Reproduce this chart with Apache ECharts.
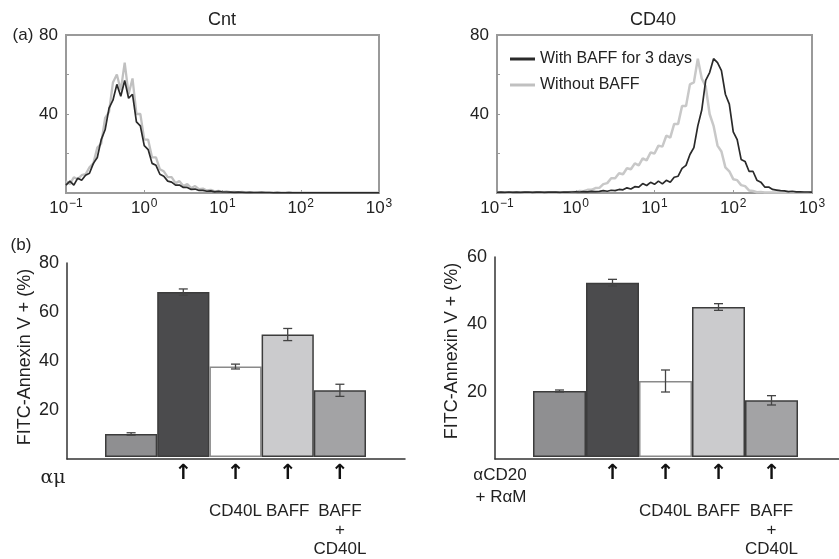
<!DOCTYPE html>
<html><head><meta charset="utf-8">
<script src="https://cdn.jsdelivr.net/npm/echarts@6/dist/echarts.min.js"></script>
<style>html,body{margin:0;padding:0;background:#fff}#c{width:839px;height:559px}</style>
</head><body><div id="c"></div>
<script>
// ---- histogram data (x = log10 fluorescence channel) ----
const histLog = [-1, -0.95, -0.9, -0.85, -0.8, -0.75, -0.7, -0.65, -0.6, -0.55, -0.5, -0.45, -0.4, -0.35, -0.3, -0.25, -0.2, -0.15, -0.1, -0.05,
  0, 0.05, 0.1, 0.15, 0.2, 0.25, 0.3, 0.35, 0.4, 0.45, 0.5, 0.55, 0.6, 0.65, 0.7, 0.75, 0.8, 0.85, 0.9, 0.95,
  1, 1.05, 1.1, 1.15, 1.2, 1.25, 1.3, 1.35, 1.4, 1.45, 1.5, 1.55, 1.6, 1.65, 1.7, 1.75, 1.8, 1.85, 1.9, 1.95,
  2, 2.05, 2.1, 2.15, 2.2, 2.25, 2.3, 2.35, 2.4, 2.45, 2.5, 2.55, 2.6, 2.65, 2.7, 2.75, 2.8, 2.85, 2.9, 2.95, 3];
const cntWith = [4, 6, 4, 7.5, 6.5, 9, 10, 15, 18, 27,
  32, 43, 47, 55, 49, 57, 48, 50, 36, 34,
  24, 22, 15, 14, 9.5, 8.5, 6, 5.5, 4, 4,
  2.8, 2.8, 1.8, 2, 1.3, 1.3, 0.9, 1.1, 0.6, 0.8,
  0.5, 0.5, 0.4, 0.3, 0.4, 0.3, 0.2, 0.3, 0.2, 0.2,
  0.3, 0.2, 0.2, 0.1, 0.2, 0.1, 0.1, 0.2, 0.1, 0.1,
  0.1, 0.1, 0.1, 0.1, 0.1, 0.1, 0.1, 0.1, 0.1, 0.1,
  0.1, 0.1, 0.1, 0.1, 0.1, 0.1, 0.1, 0.1, 0.1, 0.1, 0.1];
const cntWithout = [6, 4.5, 8, 7, 9, 9.5, 13, 15, 23, 25,
  38, 41, 56, 60, 52, 66, 50, 58, 40, 40,
  27, 27, 18, 18, 12, 11, 8, 8, 5, 6,
  3.5, 4.5, 2.5, 3.5, 2, 2.2, 1.3, 1.6, 0.8, 1.1,
  0.6, 0.8, 0.4, 0.6, 0.3, 0.5, 0.3, 0.3, 0.2, 0.3,
  0.2, 0.2, 0.2, 0.2, 0.2, 0.2, 0.2, 0.2, 0.2, 0.2,
  0.2, 0.2, 0.2, 0.2, 0.2, 0.2, 0.2, 0.2, 0.2, 0.2,
  0.2, 0.2, 0.2, 0.2, 0.2, 0.2, 0.2, 0.2, 0.2, 0.2, 0.2];
const cd40With = [0.3, 0.4, 0.3, 0.5, 0.3, 0.4, 0.3, 0.4, 0.5, 0.3,
  0.4, 0.5, 0.3, 0.4, 0.5, 0.4, 0.3, 0.5, 0.4, 0.5,
  0.6, 0.5, 0.7, 0.6, 0.8, 0.7, 0.8, 1.2, 0.9, 1.4,
  1.2, 1.8, 1.6, 2.6, 2, 3.2, 3, 4.8, 3.8, 5.4,
  4.4, 6, 4.6, 6.4, 5.4, 8, 8.5, 12.5, 14, 19.5,
  23, 34, 42, 57, 61, 68, 66, 62, 50, 45,
  31, 27, 17, 16, 11, 11, 6.5, 5.5, 3, 3,
  1.8, 1.5, 1.2, 1.1, 0.7, 0.9, 0.6, 0.6, 0.5, 0.5, 0.4];
const cd40Without = [0.3, 0.4, 0.3, 0.3, 0.4, 0.3, 0.3, 0.4, 0.3, 0.3,
  0.4, 0.3, 0.4, 0.3, 0.3, 0.4, 0.3, 0.4, 0.4, 0.5,
  0.5, 1, 0.9, 1.6, 1.6, 2.5, 2.6, 4.5, 5, 7.5,
  7.5, 10, 9.5, 12.5, 12, 15, 14, 17.5, 16.5, 20.5,
  20, 24, 23.5, 29, 28, 35, 35, 44, 44, 55,
  56, 68, 58, 54, 40, 34, 24, 21, 13, 11,
  7, 6.5, 4, 3.5, 1.3, 1, 0.4, 0.5, 0.3, 0.3,
  0.3, 0.2, 0.3, 0.2, 0.2, 0.2, 0.2, 0.2, 0.2, 0.2, 0.2];

// ---- bar data ----
const barCats = ['', '', 'CD40L', 'BAFF', 'BAFF\n+\nCD40L'];
const stimFlag = [0, 1, 1, 1, 1];
const leftVals = [9.5, 68, 37.3, 50.5, 27.5];
const leftErr = [0.5, 1.3, 1, 2.5, 2.5];
const rightVals = [19.8, 52.3, 22.8, 45, 17];
const rightErr = [0.3, 1, 3.3, 1, 1.4];

// ---- styles ----
const FONT = 'Liberation Sans';
const TXT = '#222';
const barFills = ['#8f8f91', '#4b4b4d', '#ffffff', '#cbcbcd', '#a3a3a5'];
const barEdges = ['#3c3c3c', '#3c3c3c', '#8a8a8a', '#3c3c3c', '#3c3c3c'];

const chart = echarts.init(document.getElementById('c'), null, {renderer: 'canvas'});

function histX(gi) {
  return {
    gridIndex: gi, type: 'value', min: -1, max: 3, interval: 1,
    axisLine: {show: false, onZero: false},
    axisTick: {show: true, inside: true, length: 3, lineStyle: {color: '#999'}},
    splitLine: {show: false},
    axisLabel: {
      margin: 5,
      formatter: v => '{b|10}{s|' + (v < 0 ? '\u2212' + (-v) : v) + '}',
      rich: {
        b: {fontSize: 17, fontFamily: FONT, color: TXT, lineHeight: 20},
        s: {fontSize: 12, fontFamily: FONT, color: TXT, lineHeight: 12, verticalAlign: 'top', padding: [0, 0, 0, 1]}
      }
    }
  };
}
function histY(gi) {
  return {
    gridIndex: gi, type: 'value', min: 0, max: 80, interval: 20,
    axisLine: {show: false, onZero: false},
    axisTick: {show: true, inside: true, length: 3, lineStyle: {color: '#999'}},
    splitLine: {show: false},
    axisLabel: {margin: 8, fontSize: 17, fontFamily: FONT, color: TXT,
      formatter: v => (v > 0 && v % 40 === 0) ? String(v) : ''}
  };
}
function frameX(gi) {
  return {gridIndex: gi, type: 'value', min: 0, max: 1,
    axisLine: {show: true, onZero: false, lineStyle: {color: '#333', width: 1.5}},
    axisTick: {show: false}, axisLabel: {show: false}, splitLine: {show: false}};
}
function frameY(gi, max) {
  return {gridIndex: gi, type: 'value', min: 0, max: max, interval: 20,
    axisLine: {show: true, onZero: false, lineStyle: {color: '#333', width: 1.5}},
    axisTick: {show: false}, splitLine: {show: false},
    axisLabel: {margin: 8, fontSize: 18, fontFamily: FONT, color: TXT,
      formatter: v => v > 0 ? String(v) : ''}};
}
function catX(gi) {
  return {gridIndex: gi, type: 'category', data: barCats,
    axisLine: {show: false}, axisTick: {show: false}, splitLine: {show: false},
    axisLabel: {
      margin: 7, interval: 0, lineHeight: 19, fontSize: 17, fontFamily: FONT, color: TXT,
      formatter: (val, idx) => {
        let s = stimFlag[idx] ? '{a|\u2191}' : '{a| }';
        if (val) s += '\n\n' + val.split('\n').map(t => '{t|' + t + '}').join('\n');
        return s;
      },
      rich: {
        a: {fontSize: 21, fontWeight: 'bold', fontFamily: 'DejaVu Sans', color: '#111', lineHeight: 19},
        t: {fontSize: 17, fontFamily: FONT, color: TXT, lineHeight: 19}
      }
    }};
}
function hiddenY(gi, max) {
  return {gridIndex: gi, type: 'value', min: 0, max: max, show: false, splitLine: {show: false}};
}
function barData(vals) {
  return vals.map((v, i) => ({value: v, itemStyle: {color: barFills[i], borderColor: barEdges[i], borderWidth: 1.5}}));
}
function errRender(params, api) {
  const x = api.value(0), v = api.value(1), e = api.value(2);
  const hi = api.coord([x, v + e]), lo = api.coord([x, v - e]);
  const w = 4.5, st = {stroke: '#444', lineWidth: 1.3};
  return {type: 'group', children: [
    {type: 'line', shape: {x1: hi[0], y1: hi[1], x2: lo[0], y2: lo[1]}, style: st},
    {type: 'line', shape: {x1: hi[0] - w, y1: hi[1], x2: hi[0] + w, y2: hi[1]}, style: st},
    {type: 'line', shape: {x1: lo[0] - w, y1: lo[1], x2: lo[0] + w, y2: lo[1]}, style: st}
  ]};
}
function lineSeries(name, gi, ys, color, width, z) {
  return {name: name, type: 'line', xAxisIndex: gi, yAxisIndex: gi, showSymbol: false, symbol: 'none',
    data: histLog.map((x, i) => [x, ys[i]]), z: z,
    lineStyle: {color: color, width: width}, itemStyle: {color: color}, emphasis: {disabled: true}};
}
function txt(text, x, y, size, extra) {
  return Object.assign({type: 'text', x: x, y: y, silent: true,
    style: {text: text, fill: TXT, font: size + 'px "' + FONT + '"', textAlign: 'center', textVerticalAlign: 'middle'}}, extra || {});
}

const option = {
  animation: false,
  backgroundColor: '#fff',
  grid: [
    {left: 66, top: 35, width: 313, height: 158, show: true, borderColor: '#9a9a9a', borderWidth: 2},
    {left: 497, top: 35, width: 315, height: 158, show: true, borderColor: '#9a9a9a', borderWidth: 2},
    {left: 67, top: 263, width: 338, height: 196},
    {left: 105, top: 263, width: 261, height: 196},
    {left: 495, top: 257, width: 344, height: 202},
    {left: 533, top: 257, width: 265, height: 202}
  ],
  xAxis: [histX(0), histX(1), frameX(2), catX(3), frameX(4), catX(5)],
  yAxis: [histY(0), histY(1), frameY(2, 80), hiddenY(3, 80), frameY(4, 60), hiddenY(5, 60)],
  legend: {
    data: ['With BAFF for 3 days', 'Without BAFF'], orient: 'vertical', left: 510, top: 49, padding: 0,
    icon: 'rect', itemWidth: 25, itemHeight: 3, itemGap: 6, selectedMode: false,
    textStyle: {fontSize: 16, fontFamily: FONT, color: TXT, lineHeight: 20}
  },
  series: [
    lineSeries('Without BAFF', 0, cntWithout, '#c0c0c0', 2.3, 2),
    lineSeries('With BAFF for 3 days', 0, cntWith, '#2a2a2a', 1.7, 3),
    lineSeries('Without BAFF', 1, cd40Without, '#c8c8c8', 2.5, 2),
    lineSeries('With BAFF for 3 days', 1, cd40With, '#2a2a2a', 1.7, 3),
    {type: 'bar', xAxisIndex: 3, yAxisIndex: 3, barCategoryGap: '0%', data: barData(leftVals), z: 2},
    {type: 'custom', xAxisIndex: 3, yAxisIndex: 3, renderItem: errRender, z: 5,
      encode: {x: 0, y: 1}, data: leftVals.map((v, i) => [i, v, leftErr[i]])},
    {type: 'bar', xAxisIndex: 5, yAxisIndex: 5, barCategoryGap: '0%', data: barData(rightVals), z: 2},
    {type: 'custom', xAxisIndex: 5, yAxisIndex: 5, renderItem: errRender, z: 5,
      encode: {x: 0, y: 1}, data: rightVals.map((v, i) => [i, v, rightErr[i]])}
  ],
  graphic: [
    txt('(a)', 23, 35, 17),
    txt('Cnt', 222, 20, 18),
    txt('CD40', 653, 20, 18),
    txt('(b)', 21, 245, 17),
    txt('FITC-Annexin V + (%)', 25, 357, 18, {rotation: Math.PI / 2}),
    txt('FITC-Annexin V + (%)', 452, 351, 18, {rotation: Math.PI / 2}),
    {type: 'text', x: 53, y: 478, silent: true, style: {text: '\u03b1\u03bc', fill: TXT, font: '19px "DejaVu Serif"', textAlign: 'center', textVerticalAlign: 'middle'}},
    txt('\u03b1CD20', 500, 475, 17),
    txt('+ R\u03b1M', 501, 497, 17)
  ]
};
chart.setOption(option);
</script></body></html>
